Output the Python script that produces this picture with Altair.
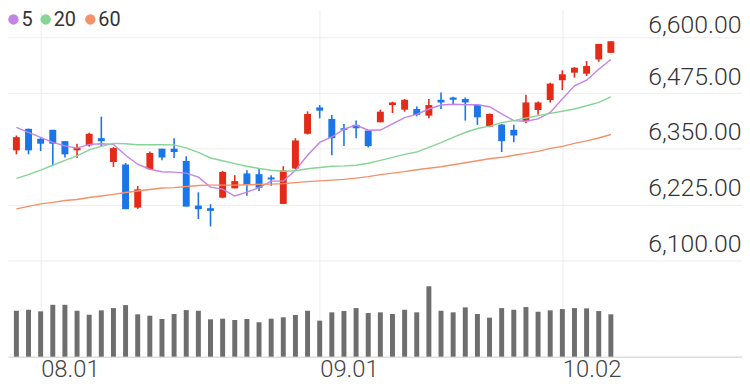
import altair as alt
import pandas as pd

# ---------------- data ----------------
dates = ["07.28", "07.31", "08.01", "08.02", "08.03", "08.04", "08.07", "08.08", "08.09", "08.10", "08.11",
         "08.14", "08.15", "08.16", "08.17", "08.18", "08.21", "08.22", "08.23", "08.24", "08.25",
         "08.28", "08.29", "08.30", "08.31", "09.01", "09.05", "09.06", "09.07", "09.08",
         "09.11", "09.12", "09.13", "09.14", "09.15", "09.18", "09.19", "09.20", "09.21", "09.22",
         "09.25", "09.26", "09.27", "09.28", "09.29", "10.02", "10.03", "10.04", "10.05", "10.06"]

opens = [6346.7, 6394.9, 6372.7, 6392.7, 6367.3, 6346.7, 6357.8, 6374.0, 6320.7, 6314.9,
         6218.4, 6304.4, 6350.4, 6350.4, 6322.9, 6222.9, 6217.1, 6240.7, 6261.6, 6294.9,
         6293.3, 6286.0, 6226.7, 6306.0, 6383.8, 6442.9, 6417.1, 6396.2, 6403.8, 6391.1,
         6409.6, 6448.2, 6437.8, 6439.3, 6424.4, 6460.0, 6465.1, 6461.6, 6448.9, 6400.0,
         6404.4, 6392.7, 6411.8, 6437.1, 6459.3, 6503.8, 6520.7, 6518.4, 6550.4, 6565.1]
highs = [6380.0, 6395.6, 6374.0, 6392.7, 6367.3, 6361.6, 6386.0, 6422.2, 6354.0, 6318.4,
         6266.7, 6344.4, 6350.4, 6374.0, 6333.3, 6252.7, 6226.0, 6300.7, 6291.1, 6302.2,
         6307.3, 6291.1, 6311.1, 6374.0, 6434.0, 6448.2, 6426.0, 6406.0, 6413.3, 6391.1,
         6437.8, 6455.6, 6461.6, 6445.1, 6461.6, 6476.2, 6466.7, 6465.1, 6448.9, 6429.6,
         6406.0, 6403.8, 6471.1, 6456.2, 6498.4, 6526.0, 6533.3, 6546.7, 6585.1, 6591.1]
lows = [6337.8, 6337.8, 6345.1, 6313.3, 6330.4, 6329.6, 6355.6, 6355.6, 6309.6, 6214.9,
        6215.6, 6304.4, 6324.4, 6329.6, 6220.7, 6192.7, 6176.2, 6239.3, 6261.6, 6245.1,
        6255.6, 6267.3, 6226.7, 6304.4, 6382.2, 6418.4, 6335.6, 6356.2, 6374.0, 6353.3,
        6409.6, 6430.4, 6433.3, 6422.9, 6418.4, 6439.3, 6448.2, 6413.3, 6403.8, 6398.4,
        6342.9, 6365.1, 6407.3, 6426.7, 6454.0, 6481.6, 6509.6, 6513.3, 6545.1, 6565.1]
closes = [6376.2, 6346.7, 6361.6, 6361.6, 6337.8, 6351.8, 6383.8, 6367.3, 6351.8, 6214.9,
          6259.3, 6340.7, 6330.7, 6342.9, 6220.7, 6214.9, 6211.1, 6298.4, 6277.8, 6268.9,
          6262.9, 6281.6, 6301.6, 6368.9, 6428.2, 6435.6, 6374.0, 6392.7, 6396.2, 6356.2,
          6433.3, 6454.0, 6460.0, 6426.0, 6448.2, 6454.0, 6460.0, 6454.0, 6420.7, 6428.2,
          6367.3, 6380.0, 6454.0, 6454.0, 6496.2, 6517.1, 6531.8, 6535.6, 6585.1, 6591.1]
volumes = [463, 473, 457, 523, 523, 463, 423, 467, 490, 520,
           427, 413, 380, 430, 470, 463, 377, 383, 370, 380,
           347, 383, 397, 420, 463, 363, 447, 460, 490, 440,
           447, 430, 473, 447, 710, 463, 447, 497, 430, 393,
           490, 473, 500, 453, 467, 480, 490, 487, 460, 427]

ma5 = [6398.4, 6387.1, 6375.6, 6364.4, 6356.7, 6351.8, 6360.0, 6361.6, 6360.0, 6335.6,
       6315.6, 6304.4, 6298.9, 6297.8, 6295.6, 6286.7, 6264.4, 6260.0, 6244.4, 6253.3,
       6263.3, 6277.8, 6277.8, 6302.2, 6335.6, 6364.4, 6376.7, 6394.4, 6403.3, 6391.8,
       6392.2, 6406.0, 6420.0, 6427.3, 6439.3, 6448.2, 6450.0, 6448.9, 6448.9, 6444.4,
       6428.2, 6413.3, 6411.8, 6417.1, 6431.8, 6461.6, 6491.1, 6503.8, 6528.2, 6550.4]
ma20 = [6283.8, 6292.2, 6302.2, 6313.3, 6324.4, 6334.4, 6347.8, 6355.6, 6362.2, 6361.6,
        6359.3, 6359.3, 6359.3, 6358.9, 6352.2, 6342.2, 6329.6, 6323.3, 6317.1, 6311.1,
        6306.0, 6302.2, 6300.0, 6301.1, 6305.6, 6308.2, 6311.1, 6311.8, 6313.3, 6317.8,
        6324.4, 6331.1, 6337.8, 6342.9, 6353.3, 6363.8, 6375.6, 6386.7, 6395.6, 6401.1,
        6408.9, 6413.3, 6419.3, 6424.4, 6429.6, 6434.4, 6439.3, 6446.7, 6454.0, 6466.7]
ma60 = [6215.6, 6221.1, 6226.7, 6230.0, 6234.4, 6236.7, 6241.1, 6244.4, 6248.2, 6252.2,
        6255.6, 6258.9, 6262.2, 6263.3, 6265.6, 6267.8, 6268.9, 6268.9, 6268.9, 6269.6,
        6270.4, 6271.1, 6272.2, 6274.4, 6276.7, 6278.4, 6280.0, 6281.6, 6284.4, 6287.8,
        6292.2, 6295.6, 6298.9, 6303.3, 6306.7, 6310.0, 6314.4, 6318.9, 6323.3, 6327.8,
        6331.1, 6335.6, 6340.0, 6344.4, 6351.1, 6355.6, 6362.2, 6367.8, 6374.4, 6382.2]

ma_periods = ["5", "20", "60"]
price_ticks = [6100, 6225, 6350, 6475, 6600]
date_ticks = ["08.01", "09.01", "10.02"]

# ---------------- styling ----------------
RED = "#e42b17"
BLUE = "#1a76e8"
MA_COLORS = ["#c384e6", "#86d596", "#f4916a"]
VOL_COLOR = "#6e6e6e"
GRID = "#ededed"
FONT = "Roboto"
LEGEND_DOT_X = [5.5, 38, 83]      # legend layout (pixels inside the plot)
LEGEND_Y = 10

n = len(dates)
idx = list(range(n))
price_df = pd.DataFrame({"idx": idx, "date": dates, "open": opens, "high": highs,
                         "low": lows, "close": closes, "volume": volumes})
ma_df = pd.DataFrame({
    "idx": idx * 3,
    "value": ma5 + ma20 + ma60,
    "period": ["5"] * n + ["20"] * n + ["60"] * n,
})

tick_idx = [dates.index(d) for d in date_ticks]
label_expr = "[" + ",".join("'" + d + "'" for d in dates) + "][datum.value]"

x_scale = alt.Scale(domain=[-0.2823, 59.40], nice=False, zero=False)
x_axis = alt.Axis(values=tick_idx, labelExpr=label_expr, title=None, grid=True,
                  gridColor=GRID, gridWidth=1, ticks=False, tickSize=0,
                  domainColor="#dedede", domainWidth=1.5,
                  labelFont=FONT, labelFontSize=24, labelFontWeight=300, labelColor="#444444",
                  labelAlign="left", labelBaseline="top", labelPadding=1,
                  labelFlush=False, labelOverlap=False)
x = alt.X("idx:Q", scale=x_scale, axis=x_axis)

top_tick = max(price_ticks)
p_scale = alt.Scale(domain=[5884.44, 6662.22], nice=False, zero=False)
p_axis = alt.Axis(values=price_ticks, format=",.2f", orient="right", title=None,
                  grid=True, gridColor=GRID, gridWidth=1, domain=False, ticks=False, tickSize=0,
                  labelAlign="right", labelPadding=-1, labelBaseline="alphabetic",
                  labelOffset={"condition": {"test": f"datum.value >= {top_tick}", "value": -5},
                               "value": -9},
                  labelFont=FONT, labelFontSize=25, labelFontWeight=300,
                  labelColor="#333333", labelOverlap=False)

candle_color = alt.condition("datum.close >= datum.open", alt.value(RED), alt.value(BLUE))

wicks = alt.Chart(price_df).mark_rule(strokeWidth=1.6).encode(
    x=x,
    y=alt.Y("low:Q", scale=p_scale, axis=p_axis),
    y2="high:Q",
    color=candle_color,
)
bodies = alt.Chart(price_df).mark_bar(width=7).encode(
    x=x,
    y=alt.Y("open:Q", scale=p_scale, axis=p_axis),
    y2="close:Q",
    color=candle_color,
)
lines = alt.Chart(ma_df).mark_line(strokeWidth=1.4).encode(
    x=x,
    y=alt.Y("value:Q", scale=p_scale, axis=p_axis),
    color=alt.Color("period:N",
                    scale=alt.Scale(domain=ma_periods, range=MA_COLORS),
                    sort=ma_periods, legend=None),
    detail="period:N",
)

# legend: coloured dot + label for each moving-average period
legend_layers = []
for period, colour, dot_x in zip(ma_periods, MA_COLORS, LEGEND_DOT_X):
    ldf = pd.DataFrame({"label": [period]})
    legend_layers.append(
        alt.Chart(ldf).mark_circle(size=110, color=colour, opacity=1).encode(
            x=alt.value(dot_x), y=alt.value(LEGEND_Y)))
    legend_layers.append(
        alt.Chart(ldf).mark_text(align="left", baseline="middle", font=FONT, fontSize=20,
                                 color="#333333").encode(
            x=alt.value(dot_x + 8), y=alt.value(LEGEND_Y + 1), text="label:N"))

price = alt.layer(wicks, bodies, lines, *legend_layers)

vol = alt.Chart(price_df).mark_bar(width=5, color=VOL_COLOR).encode(
    x=x,
    y=alt.Y("volume:Q", scale=alt.Scale(domain=[0, 3500], nice=False), axis=None),
)

chart = alt.layer(vol, price).resolve_scale(y="independent").properties(
    width=740, height=350,
    autosize=alt.AutoSizeParams(type="none"),
    padding={"left": 0, "top": 0, "right": 0, "bottom": 24},
).configure_view(stroke=None)

chart.save("out.html", embed_options={"renderer": "svg", "actions": False})
